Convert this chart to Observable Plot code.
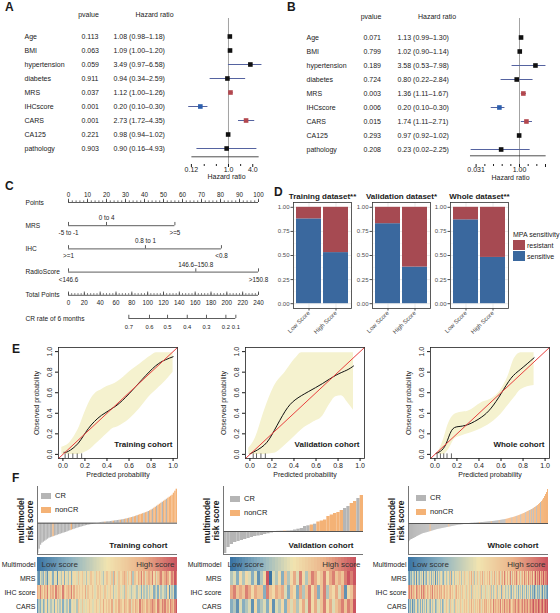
<!DOCTYPE html>
<html><head><meta charset="utf-8">
<script src="https://cdn.jsdelivr.net/npm/d3@7"></script>
<script src="https://cdn.jsdelivr.net/npm/@observablehq/plot@0.6"></script>
<style>
body{margin:0;background:#fff;}
#root{position:relative;width:560px;height:613px;overflow:hidden;background:#fff;}
</style></head><body><div id="root"></div>
<script>
// ---------------- DATA ----------------
// Panel A / B forest
const forestNames = ["Age","BMI","hypertension","diabetes","MRS","IHCscore","CARS","CA125","pathology"];
const pA = ["0.113","0.063","0.059","0.911","0.037","0.001","0.001","0.221","0.903"];
const hrA = [1.08,1.09,3.49,0.94,1.12,0.20,2.73,0.98,0.90];
const loA = [0.98,1.00,0.97,0.34,1.00,0.10,1.72,0.94,0.16];
const hiA = [1.18,1.20,6.58,2.59,1.26,0.30,4.35,1.02,4.93];
const pB = ["0.071","0.799","0.189","0.724","0.003","0.006","0.015","0.293","0.208"];
const hrB = [1.13,1.02,3.58,0.80,1.36,0.20,1.74,0.97,0.23];
const loB = [0.99,0.90,0.53,0.22,1.11,0.10,1.11,0.92,0.02];
const hiB = [1.30,1.14,7.98,2.84,1.67,0.30,2.71,1.02,2.25];
const ticksA = [0.12,1,4], tickLabelsA = ["0.12","1.0","4.0"];
const ticksB = [0.031,1,8], tickLabelsB = ["0.031","1.00","8.00"];

// Panel C nomogram
const nomoRows = ["Points","MRS","IHC","RadioScore","Total Points","CR rate of 6 months"];
const mrsLevels = ["-5 to -1","0 to 4",">=5"], mrsPoints = [0,20,56];
const ihcLevels = [">=1","0.8 to 1","<0.8"], ihcPoints = [0,40.5,80.5];
const radioLevels = ["<146.6","146.6\u2013150.8",">150.8"], radioPoints = [0,67,100];
const totalMax = 240;
const crLabels = ["0.7","0.6","0.5","0.4","0.3","0.2","0.1"];
const crTotalPoints = [76.2,102.3,125.1,150.0,174.3,198.8,211.4];

// Panel D
const dsNames = ["Training dataset**","Validation dataset*","Whole dataset**"];
const scoreGroups = ["Low Score","High Score"];
const sensLow = [0.88,0.83,0.87];
const sensHigh = [0.53,0.38,0.48];
const mpaLevels = ["resistant","sensitive"];
const mpaColors = ["#a64a52","#3a689e"];

// Panel E calibration
const calTrain = {label:"Training cohort",
  bx:[-0.01,0.05,0.1,0.15,0.2,0.25,0.3,0.35,0.4,0.45,0.5,0.55,0.6,0.7,0.8,0.85,0.9,1.0],
  bhi:[0.07,0.1,0.17,0.27,0.41,0.53,0.6,0.63,0.66,0.68,0.71,0.75,0.8,0.88,0.96,0.99,0.99,0.99],
  blo:[0,0,0,0,0.02,0.05,0.1,0.15,0.2,0.25,0.27,0.3,0.34,0.45,0.58,0.63,0.68,0.8],
  cx:[0.01,0.05,0.14,0.23,0.35,0.48,0.6,0.72,0.84,0.93,1.0],
  cy:[0.02,0.03,0.11,0.25,0.38,0.47,0.59,0.73,0.86,0.92,0.95],
  rug:[0.02,0.05,0.09,0.13,0.17]};
const calValid = {label:"Validation cohort",
  bx:[-0.01,0.05,0.13,0.22,0.32,0.41,0.47,0.57,0.66,0.72,0.78,0.83,0.89,0.94],
  bhi:[0.06,0.16,0.42,0.66,0.8,0.93,0.99,0.99,0.99,0.99,0.99,0.99,0.99,0.99],
  blo:[0,0,0,0.01,0.09,0.18,0.24,0.31,0.37,0.48,0.56,0.57,0.5,0.43],
  cx:[0.0,0.13,0.22,0.32,0.41,0.53,0.66,0.78,0.88,0.94],
  cy:[0.005,0.09,0.23,0.42,0.53,0.61,0.69,0.77,0.82,0.86],
  rug:[0.03,0.06,0.1,0.14]};
const calWhole = {label:"Whole cohort",
  bx:[0.03,0.08,0.12,0.18,0.24,0.3,0.42,0.54,0.6,0.66,0.72,0.78,0.9],
  bhi:[0.02,0.15,0.29,0.39,0.41,0.42,0.5,0.56,0.63,0.75,0.93,0.99,0.99],
  blo:[0,0,0.04,0.15,0.18,0.2,0.25,0.33,0.39,0.47,0.55,0.63,0.67],
  cx:[0.01,0.05,0.1,0.15,0.21,0.3,0.42,0.51,0.6,0.69,0.78,0.9],
  cy:[0.01,0.03,0.1,0.23,0.27,0.29,0.36,0.45,0.59,0.74,0.83,0.94],
  rug:[0.02,0.05,0.08,0.11,0.15]};
const probTicks = [0,0.2,0.4,0.6,0.8,1];

// Panel F waterfall scores (sorted) and CR status (C = CR, N = nonCR)
const scoresTrain = [-30,-26,-22,-20,-19,-18,-17,-16,-15,-14.5,-14,-13.5,-13,-12.5,-12,-11.5,-11,-10.5,-10,-9.6,
  -9.2,-8.6,-8,-7.5,-7,-6.5,-6,-5.5,-5,-4.6,-4.2,-3.8,-3.4,-3,-2.6,-2.3,-2,-1.7,-1.4,-1.1,-0.8,-0.5,-0.2,
  0.3,0.5,0.7,0.9,1,1.1,1.3,1.4,1.5,1.7,1.9,2.1,2.3,2.5,2.7,2.9,3.1,3.3,3.6,3.9,4.2,4.5,
  4.9,5.3,5.7,6.1,6.5,7,7.5,8,8.5,9,9.5,10,10.5,11,11.7,12.4,13.2,14,15,16,17,18,19,20,21,22,
  23,24,25,26,27,28,30,32,34];
const statusTrain = "CCCCCCCCCC CNCCCCCCCC CCCCNCCCCC CCCCCCCCCC CCCCCCCCNC CCCCNCCCCN CCNCNCNNCN NCNNNNCNNC NNCNNCNNNC NNCNNNNNNN";
const scoresValid = [-22,-16,-13,-11,-10,-9,-8,-7,-6,-5,-4.5,-4,-3,-2.3,-1.5,-1,
  0.2,0.3,0.4,0.5,0.7,1.5,2.3,3,5,5.7,6.5,7.3,9.5,10.5,11.5,15,16.5,18,19,21,23,25,28,30,33,36];
const statusValid = "CCCCCCCCCC CCCCCCCCNC CCCCCCNCNN NNNNNNCCNN CN";
const scoresWhole = [-19,-17.5,-16.5,-16,-15.5,-15,-14.5,-14,-13.3,-12.8,-12.3,-11.8,-11.3,-10.8,-10.4,-10,-9.8,-9.5,-9.3,-9,
  -8.7,-8.4,-8.1,-7.8,-7.5,-7.2,-6.9,-6.6,-6.3,-6,-5.8,-5.6,-5.4,-5.2,-5,-4.8,-4.6,-4.4,-4.2,-4,
  -3.8,-3.6,-3.4,-3.2,-3,-2.8,-2.6,-2.4,-2.2,-2,-1.9,-1.7,-1.6,-1.5,-1.3,-1.2,-1,-0.8,-0.6,-0.4,-0.3,-0.1,
  0.1,0.2,0.3,0.3,0.4,0.5,0.5,0.6,0.7,0.8,0.8,0.9,1,1,1.1,1.2,1.3,1.4,1.5,1.6,
  1.7,1.8,1.9,2,2.1,2.2,2.4,2.5,2.7,2.8,3,3.1,3.3,3.5,3.6,3.8,4,4.2,4.4,4.7,
  5,5.3,5.5,5.8,6,6.3,6.6,7,7.3,7.6,8,8.4,8.8,9.2,9.6,10,10.5,11,11.5,12,
  12.5,13,13.5,14,14.6,15.2,16,16.6,17.3,18,19,20,21,22,23.5,25,27,29,31,34];
const statusWhole = "CCCCCCCCCC CCCCCCCCCC CCNCCCCCCC CCCCCCCCCC CNCCCCCCCC CCCCCCCCCC CCCCCCCCCC CCNCCCCCCC CCCCNCCCCC CCNCCCCCCN NNNNNCNNNN CNNNCNNNNC NNNCNCNCNN CNNNCNNNNN NN";

// Heatmap rows (0 = low/blue ... 9 = high/red)
const heatRows = ["Multimodel","MRS","IHC score","CARS"];
const mrsTrain  = "2143253145 4254154352 5435245546 4564535465 5465654356 6546375465 5676465736 6576857467 7685746786 6787568798";
const ihcTrain  = "7686576857 6758676586 5676857565 6565746556 5456565465 4565354564 5436454345 4354253435 3452342534 4325143412";
const carsTrain = "1324235243 3425343524 4352454536 5464545654 4565465756 5657456576 6576567465 7658676576 6787658768 7867587689";
const mrsValid  = "3425354241 3590435263 5748536875 6857867689 89";
const ihcValid  = "7867687576 6286576742 6527368572 6836574715 68";
const carsValid = "2314234152 3425143526 4635748574 6857467868 79";
const mrsWhole  = "2132432514 3243514325 4352435142 5345352453 4536245354 5465354645 5465746354 6546574655 6575465746 5674675865 7568476576 8657467586 7586768579 6879687978 89";
const ihcWhole  = "7868676587 6758687657 6576857667 5767586756 6567565467 5656465546 4565364545 5456354464 4546353456 3545264534 4353254345 3424352435 2435242313 4232431423 21";
const carsWhole = "1324132452 3425243524 4325345234 4535243546 5436454365 4546545656 5465756465 6576465767 5657658676 6768576867 7687568778 6787678687 7867878978 8798789789 89";
const crLevels = ["CR","nonCR"];
const crColors = ["#b5b5b5","#f4b276"];
const heatColors = ["#3a74a4","#8fb4c2","#f1e4b0","#ebb38a","#cb5560"];

// ---------------- HELPERS ----------------
const FONT = '"Liberation Sans", Arial, Helvetica, sans-serif';
const INK = "#1a1a1a";
const root = document.getElementById("root");
function place(node, left, top){ node.style.position="absolute"; node.style.left=left+"px"; node.style.top=top+"px"; root.appendChild(node); return node; }
function sty(size){ return {fontFamily: FONT, fontSize: size+"px", color: INK, background:"transparent", overflow:"visible"}; }
function htmlText(txt, left, top, size, bold){
  const d=document.createElement("div"); d.textContent=txt;
  Object.assign(d.style,{position:"absolute",left:left+"px",top:top+"px",fontFamily:FONT,fontSize:size+"px",fontWeight:bold?"bold":"normal",lineHeight:"1",whiteSpace:"nowrap",color:INK});
  root.appendChild(d); return d;
}
function swatch(color, left, top, w, h){
  const d=document.createElement("div");
  Object.assign(d.style,{position:"absolute",left:left+"px",top:top+"px",width:w+"px",height:h+"px",background:color});
  root.appendChild(d);
}
const digits = s => s.replace(/\s/g,"").split("").map(Number);
const chars = s => s.replace(/\s/g,"").split("");

// ---------------- PANEL A / B ----------------
const RED = "#b3474e", BLUE = "#2c5fae", CI = "#5563a0";
function forest(cfg){
  const rows = forestNames.map((n,i)=>({name:n, p:cfg.p[i], hr:cfg.hr[i], lo:cfg.lo[i], hi:cfg.hi[i],
    txt:`${cfg.hr[i].toFixed(2)} (${cfg.lo[i].toFixed(2)}\u2013${cfg.hi[i].toFixed(2)})`,
    col: (+cfg.p[i] < 0.05) ? (cfg.hr[i] > 1 ? RED : BLUE) : "#111"}));
  const ml = cfg.marginLeft, H = 180, MB = 16;
  return Plot.plot({
    width:280, height:H, marginLeft:ml, marginRight:cfg.marginRight, marginTop:18, marginBottom:MB,
    style: sty(7),
    x:{type:"log", domain:cfg.xDomain, label:null},
    y:{type:"point", domain:forestNames, range:cfg.yRange, label:null, axis:null},
    marks:[
      Plot.ruleX([1], {stroke:"#8c8c8c", strokeWidth:0.8}),
      Plot.link(rows, {x1:"lo", x2:"hi", y1:"name", y2:"name", stroke:CI, strokeWidth:1}),
      Plot.dot(rows, {x:"hr", y:"name", symbol:"square", r:2.6, fill:d=>d.col, stroke:null}),
      Plot.text(rows, {y:"name", text:"name", frameAnchor:"left", dx:cfg.colName-ml, textAnchor:"start"}),
      Plot.text(rows, {y:"name", text:"p", frameAnchor:"left", dx:cfg.colP-ml, textAnchor:"start"}),
      Plot.text(rows, {y:"name", text:"txt", frameAnchor:"left", dx:cfg.colHR-ml, textAnchor:"start"}),
      Plot.text(["pvalue"], {frameAnchor:"top-left", dx:cfg.hdrP-ml, dy:cfg.hdrY-18, textAnchor:"middle"}),
      Plot.text(["Hazard ratio"], {frameAnchor:"top-left", dx:cfg.hdrHR-ml, dy:cfg.hdrY-18, textAnchor:"middle"}),
      Plot.link([forestNames[forestNames.length-1]], {x1:()=>cfg.axisExt[0], x2:()=>cfg.axisExt[1], y1:d=>d, y2:d=>d, dy:(H-MB)-cfg.yRange[1], stroke:"#222", strokeWidth:0.8}),
      Plot.axisX({ticks:cfg.minor, tickSize:2, tickFormat:()=>"", stroke:"#222", label:null}),
      Plot.axisX({ticks:cfg.ticks, tickSize:3, tickPadding:0, tickFormat:d=>cfg.tickLabels[cfg.ticks.indexOf(d)], fontSize:7, label:null}),
      Plot.text(["Hazard ratio"], {frameAnchor:"bottom", dx:0, dy:cfg.hrLabDy, fontSize:7})
    ]
  });
}
place(forest({p:pA, hr:hrA, lo:loA, hi:hiA, marginLeft:190, marginRight:18, xDomain:[0.114,6.98],
  yRange:[27.7,155.7], colName:24, colP:81, colHR:113, hdrP:88, hdrHR:154, hdrY:11.7,
  axisExt:[0.12,5.6], minor:[0.25,0.5,2], ticks:ticksA, tickLabels:tickLabelsA, hrLabDy:14.5}), 0, 0);
place(forest({p:pB, hr:hrB, lo:loB, hi:hiB, marginLeft:190, marginRight:10, xDomain:[0.0198,11.94],
  yRange:[29,157.7], colName:26, colP:83, colHR:117, hdrP:90.5, hdrHR:156.5, hdrY:13.3,
  axisExt:[0.019,8.1], minor:[0.0625,0.125,0.25,0.5,2,4], ticks:ticksB, tickLabels:tickLabelsB, hrLabDy:15}), 280, 0);

// ---------------- PANEL C ----------------
const LINE = "#333";
function nomoVar(row, levels, pts){
  return [
    Plot.ruleY([row], {x1:d3.min(pts), x2:d3.max(pts), stroke:LINE, strokeWidth:0.8}),
    Plot.ruleX(pts, {x:d=>d, y1:row, y2:row-0.14, stroke:LINE, strokeWidth:0.8}),
    Plot.text(levels, {filter:(d,i)=>i%2===0, x:(d,i)=>pts[i], y:row, dy:7.5, text:d=>d}),
    Plot.text(levels, {filter:(d,i)=>i%2===1, x:(d,i)=>pts[i], y:row, dy:-7.5, text:d=>d})
  ];
}
const pointMajor = d3.range(0,101,10), pointMinor = d3.range(0,101,2);
const totalMajor = d3.range(0,totalMax+1,20), totalMinor = d3.range(0,totalMax+1,4);
const toPts = v => v*100/totalMax;
place(Plot.plot({
  width:280, height:165, marginLeft:68, marginRight:22, marginTop:10, marginBottom:10,
  style: sty(6.3),
  x:{domain:[0,100], label:null, axis:null},
  y:{domain:[0,5], range:[22,138], label:null, axis:null},
  marks:[
    Plot.text(nomoRows, {y:(d,i)=>i, text:d=>d, frameAnchor:"left", dx:-43, textAnchor:"start", fontSize:6.6}),
    Plot.ruleY([0], {x1:0, x2:100, stroke:LINE, strokeWidth:0.8}),
    Plot.ruleX(pointMinor, {x:d=>d, y1:0, y2:-0.07, stroke:LINE, strokeWidth:0.7}),
    Plot.ruleX(pointMajor, {x:d=>d, y1:0, y2:-0.14, stroke:LINE, strokeWidth:0.8}),
    Plot.text(pointMajor, {x:d=>d, y:0, dy:-8, text:d=>String(d)}),
    ...nomoVar(1, mrsLevels, mrsPoints),
    ...nomoVar(2, ihcLevels, ihcPoints),
    ...nomoVar(3, radioLevels, radioPoints),
    Plot.ruleY([4], {x1:0, x2:100, stroke:LINE, strokeWidth:0.8}),
    Plot.ruleX(totalMinor, {x:toPts, y1:4, y2:4-0.07, stroke:LINE, strokeWidth:0.7}),
    Plot.ruleX(totalMajor, {x:toPts, y1:4, y2:4-0.14, stroke:LINE, strokeWidth:0.8}),
    Plot.text(totalMajor, {x:toPts, y:4, dy:8, text:d=>String(d)}),
    Plot.ruleY([5], {x1:toPts(crTotalPoints[0]), x2:toPts(crTotalPoints[crTotalPoints.length-1]), stroke:LINE, strokeWidth:0.8}),
    Plot.ruleX(crTotalPoints, {x:toPts, y1:5, y2:5-0.14, stroke:LINE, strokeWidth:0.8}),
    Plot.text(crLabels, {x:(d,i)=>toPts(crTotalPoints[i]), y:5, dy:9, text:d=>d, fontSize:5.8})
  ]
}), 0, 180);

// ---------------- PANEL D ----------------
const facetLeft = [293,372,450];
dsNames.forEach((ds, k) => {
  const rows = [
    {score:"Low Score", status:"sensitive", value:sensLow[k]},
    {score:"High Score", status:"sensitive", value:sensHigh[k]},
    {score:"Low Score", status:"resistant", value:1-sensLow[k]},
    {score:"High Score", status:"resistant", value:1-sensHigh[k]}
  ];
  const svg = Plot.plot({
    width:83, height:165, marginLeft:22, marginRight:3, marginTop:22, marginBottom:37,
    style: sty(6),
    x:{domain:scoreGroups, padding:0.08, label:null},
    y:{domain:[-0.05,1.05], label:null},
    color:{domain:mpaLevels, range:mpaColors},
    marks:[
      Plot.gridY([0.125,0.375,0.625,0.875], {stroke:"#f0f0f0", strokeOpacity:1, strokeWidth:0.5}),
      Plot.gridY([0,0.25,0.5,0.75,1], {stroke:"#e3e3e3", strokeOpacity:1, strokeWidth:0.7}),
      Plot.gridX(scoreGroups, {stroke:"#e3e3e3", strokeOpacity:1, strokeWidth:0.7}),
      Plot.barY(rows, {x:"score", y:"value", fill:"status"}),
      Plot.frame({stroke:"#333", strokeWidth:0.8}),
      Plot.axisY({ticks:[0,0.25,0.5,0.75,1], tickFormat:d=>d.toFixed(2), tickSize:2.5, tickPadding:1.5, color:"#4d4d4d", fontSize:6, label:null}),
      Plot.axisX({tickSize:2.5, tickRotate:-45, tickPadding:1, color:"#4d4d4d", fontSize:6, label:null}),
      Plot.text([ds], {frameAnchor:"top", dy:-9, fontWeight:"bold", fontSize:8})
    ]
  });
  place(svg, facetLeft[k]-22, 180);
});
htmlText("MPA sensitivity", 513, 230.5, 7);
mpaLevels.forEach((lev,i)=>{ swatch(mpaColors[i], 513, 240+i*11, 12, 10); htmlText(lev, 527, 241.5+i*11, 7); });

// ---------------- PANEL E ----------------
const BAND = "#f5f2cf", DIAG = "#e8403e";
function calib(cfg){
  const band = cfg.bx.map((x,i)=>({x, lo:cfg.blo[i], hi:cfg.bhi[i]}));
  const curve = cfg.cx.map((x,i)=>({x, y:cfg.cy[i]}));
  return Plot.plot({
    width:154, height:145, marginLeft:30, marginRight:5, marginTop:7, marginBottom:27,
    style: sty(7),
    x:{domain:[-0.04,1.04], label:null},
    y:{domain:[-0.04,1.04], label:null},
    marks:[
      Plot.areaY(band, {x:"x", y1:"lo", y2:"hi", fill:BAND, curve:"monotone-x"}),
      Plot.ruleX(cfg.rug, {x:d=>d, y1:-0.04, y2:0.005, stroke:"#222", strokeWidth:0.7}),
      Plot.line(curve, {x:"x", y:"y", curve:"natural", stroke:"#111", strokeWidth:1}),
      Plot.line([[-0.04,-0.04],[1.04,1.04]], {stroke:DIAG, strokeWidth:1}),
      Plot.frame({stroke:"#222", strokeWidth:0.8}),
      Plot.axisX({ticks:probTicks, tickFormat:d=>d.toFixed(1), tickSize:3, tickPadding:1.5, fontSize:7, label:null}),
      Plot.axisY({ticks:probTicks, tickFormat:()=>"", tickSize:3, label:null}),
      Plot.text(probTicks, {y:d=>d, text:d=>d.toFixed(1), frameAnchor:"left", dx:-9, rotate:-90, textAnchor:"middle", fontSize:7}),
      Plot.text(["Observed probability"], {frameAnchor:"left", dx:-22, rotate:-90, textAnchor:"middle", fontSize:7}),
      Plot.text(["Predicted probability"], {frameAnchor:"bottom", dy:18, textAnchor:"middle", fontSize:7}),
      Plot.text([cfg.label], {frameAnchor:"bottom-right", dx:-5, dy:-12, textAnchor:"end", fontWeight:"bold", fontSize:8})
    ]
  });
}
place(calib(calTrain), 28, 340);
place(calib(calValid), 215, 340);
place(calib(calWhole), 400, 340);

// ---------------- PANEL F ----------------
function waterfall(scores, status, label, yDomain){
  const st = chars(status);
  const rows = scores.map((v,i)=>({i, v, s: st[i]==="N" ? "nonCR" : "CR"}));
  const N = scores.length;
  return Plot.plot({
    width:170, height:74, marginLeft:30, marginRight:0, marginTop:4, marginBottom:2,
    style: sty(7),
    x:{domain:[0,N], label:null, axis:null},
    y:{domain:yDomain, label:null, axis:null},
    color:{domain:crLevels, range:crColors},
    marks:[
      Plot.rect(rows, {x1:"i", x2:d=>d.i+1, y1:0, y2:"v", fill:"s"}),
      Plot.ruleY([0], {stroke:"#555", strokeWidth:1}),
      Plot.ruleX([0], {stroke:"#666", strokeWidth:0.9}),
      Plot.ruleY([yDomain[0]], {stroke:"#666", strokeWidth:0.9}),
      Plot.text(["multimodel\nrisk score"], {frameAnchor:"left", dx:-12, rotate:-90, textAnchor:"middle", fontWeight:"bold", fontSize:8.5, lineHeight:1.05}),
      Plot.text([label], {frameAnchor:"bottom-right", dx:-10, dy:-6.5, textAnchor:"end", fontWeight:"bold", fontSize:8})
    ]
  });
}
function heat(scores, mrs, ihc, cars){
  const N = scores.length;
  const m = digits(mrs), h = digits(ihc), c = digits(cars);
  const rows = [];
  scores.forEach((s,i)=>{
    const pct = scores.filter(t=>t<s).length/(N-1);
    rows.push({i, row:"Multimodel", v:9*pct});
    rows.push({i, row:"MRS", v:m[i]});
    rows.push({i, row:"IHC score", v:h[i]});
    rows.push({i, row:"CARS", v:c[i]});
  });
  return Plot.plot({
    width:180, height:57, marginLeft:40, marginRight:0, marginTop:0, marginBottom:0,
    style: sty(7),
    x:{type:"band", domain:d3.range(N), padding:0, axis:null, label:null},
    y:{domain:heatRows, padding:0, label:null},
    color:{type:"linear", domain:[0,2.2,4.5,6.8,9], range:heatColors},
    marks:[
      Plot.cell(rows, {x:"i", y:"row", fill:"v", shapeRendering:"crispEdges"}),
      Plot.axisY({tickSize:0, tickPadding:2, fontSize:7, label:null}),
      Plot.text(["Low score"], {y:()=>"Multimodel", frameAnchor:"left", dx:4, textAnchor:"start", fontSize:8, fill:"#333"}),
      Plot.text(["High score"], {y:()=>"Multimodel", frameAnchor:"right", dx:-3, textAnchor:"end", fontSize:8, fill:"#333"})
    ]
  });
}
const fCfg = [
  {L:37, scores:scoresTrain, status:statusTrain, label:"Training cohort", yd:[-31.3,36.7], mrs:mrsTrain, ihc:ihcTrain, cars:carsTrain, ldx:4, ltop:493},
  {L:223, scores:scoresValid, status:statusValid, label:"Validation cohort", yd:[-23,45], mrs:mrsValid, ihc:ihcValid, cars:carsValid, ldx:7, ltop:496},
  {L:408, scores:scoresWhole, status:statusWhole, label:"Whole cohort", yd:[-31,37], mrs:mrsWhole, ihc:ihcWhole, cars:carsWhole, ldx:8, ltop:495}
];
fCfg.forEach(f=>{
  place(waterfall(f.scores, f.status, f.label, f.yd), f.L-30, 482);
  place(heat(f.scores, f.mrs, f.ihc, f.cars), f.L-40, 556);
  crLevels.forEach((lev,i)=>{ swatch(crColors[i], f.L+f.ldx, f.ltop+i*14, 10, 5.5); htmlText(lev, f.L+f.ldx+14, f.ltop-1+i*14, 7.5); });
});

// ---------------- PANEL LETTERS ----------------
[["A",5,1],["B",287,1],["C",5,180],["D",274,186],["E",12,343],["F",12,472]].forEach(([t,x,y])=>htmlText(t,x,y,12,true));
</script></body></html>
